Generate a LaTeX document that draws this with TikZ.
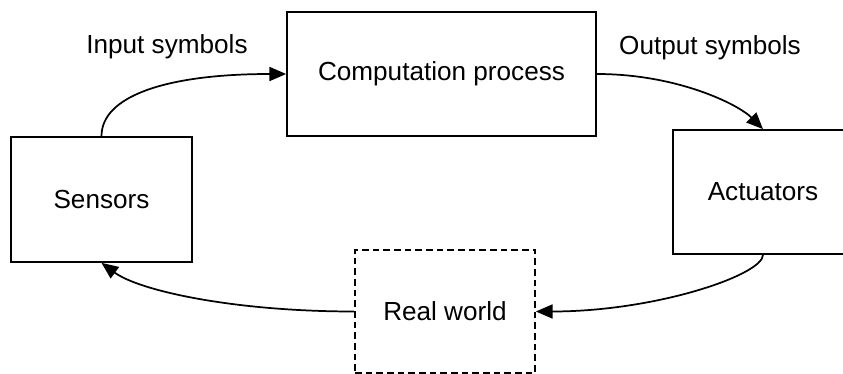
\documentclass[tikz,border=0pt]{standalone}
\usepackage{fontspec}
\setmainfont{Liberation Sans}
\usetikzlibrary{arrows.meta}
\begin{document}
\begin{tikzpicture}[x=0.75pt,y=-0.75pt,
  every node/.style={font=\fontsize{19.6}{23}\selectfont},
  box/.style={draw, line width=1.3pt, inner sep=0pt},
  dbox/.style={box, dash pattern=on 5pt off 3pt},
  flow/.style={line width=1.3pt, -{Triangle[length=12.5pt,width=10.5pt]}},
  lbl/.style={inner sep=0pt}]
\useasboundingbox (0,0) rectangle (843,374);
\clip (0,0) rectangle (843,374);

% the four stages of the loop
\node[box, minimum width=231.75pt, minimum height=93pt] (comp) at (441.5,74) {Computation process};
\node[box, minimum width=135.75pt, minimum height=93.75pt] (sens) at (101.5,199.5) {Sensors};
\node[box, minimum width=135pt, minimum height=93pt] (act) at (763,192) {Actuators};
\node[dbox, minimum width=135pt, minimum height=92.25pt] (world) at (445,311.5) {Real world};

% edge labels
\node[lbl] (inlbl) at (167,47) {Input symbols};
\node[lbl] (outlbl) at (710,48) {Output symbols};

% curved connectors
\draw[flow] (sens.north) .. controls +(0,-40) and +(-120,0) .. (comp.west);
\draw[flow] (comp.east) .. controls +(80,0) and +(-25,-25) .. (act.north);
\draw[flow] (act.south) .. controls +(0,20) and +(120,0) .. (world.east);
\draw[flow] (world.west) .. controls +(-120,0) and +(38,28) .. (sens.south);
\end{tikzpicture}
\end{document}
